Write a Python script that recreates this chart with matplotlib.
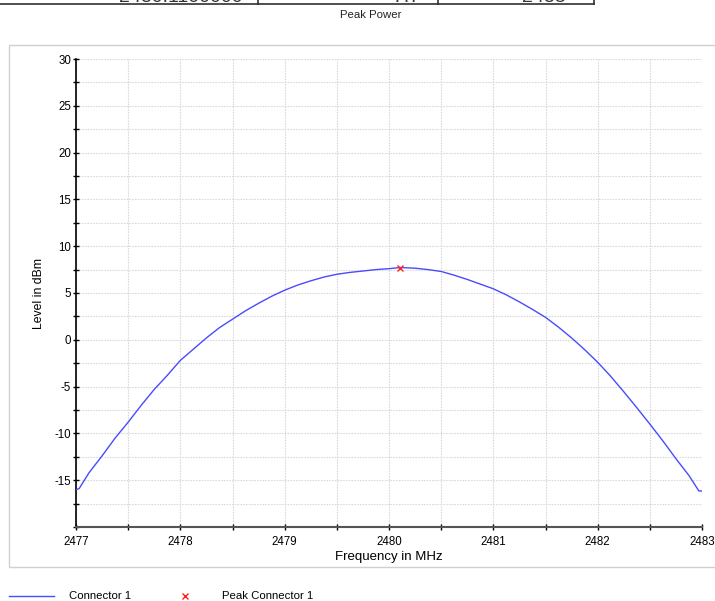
import matplotlib
matplotlib.use("Agg")
import matplotlib.pyplot as plt
from matplotlib.ticker import MultipleLocator
from matplotlib.lines import Line2D
from matplotlib.patches import Rectangle

plt.rcParams['font.family'] = ['Liberation Sans', 'DejaVu Sans']
plt.rcParams['axes.unicode_minus'] = False

# ---- data ----
freq_mhz = [2477.0, 2477.03, 2477.125, 2477.25, 2477.375, 2477.5, 2477.625, 2477.75,
            2477.875, 2478.0, 2478.125, 2478.25, 2478.375, 2478.5, 2478.625, 2478.75,
            2478.875, 2479.0, 2479.125, 2479.25, 2479.375, 2479.5, 2479.625, 2479.75,
            2479.875, 2480.0, 2480.11, 2480.25, 2480.375, 2480.5, 2480.625, 2480.75,
            2480.875, 2481.0, 2481.125, 2481.25, 2481.375, 2481.5, 2481.625, 2481.75,
            2481.875, 2482.0, 2482.125, 2482.25, 2482.375, 2482.5, 2482.625, 2482.75,
            2482.875, 2482.97, 2483.0]
level_dbm = [-16.0, -15.9, -14.2, -12.4, -10.5, -8.8, -7.0, -5.3,
             -3.8, -2.2, -1.0, 0.2, 1.3, 2.2, 3.1, 3.9,
             4.65, 5.3, 5.85, 6.3, 6.7, 7.0, 7.2, 7.35,
             7.5, 7.6, 7.72, 7.65, 7.5, 7.3, 6.9, 6.45,
             5.95, 5.45, 4.8, 4.05, 3.25, 2.4, 1.35, 0.2,
             -1.05, -2.4, -3.9, -5.55, -7.25, -9.0, -10.8, -12.7,
             -14.5, -16.15, -16.15]
peak_freq = [2480.11]
peak_level = [7.72]
x_ticks = [2477, 2478, 2479, 2480, 2481, 2482, 2483]
y_ticks = [-15, -10, -5, 0, 5, 10, 15, 20, 25, 30]
series_name = "Connector 1"
peak_name = "Peak Connector 1"
table_texts = ["2480.1100000", "7.7", "2483"]

W, H = 715, 601
fig = plt.figure(figsize=(W / 100, H / 100), dpi=100)

def fx(px):
    return px / W

def fy(py):
    return 1 - py / H

# outer frame
fig.patches.append(Rectangle((fx(9), fy(567)), fx(720) - fx(9), fy(45) - fy(567),
                             transform=fig.transFigure, fill=False,
                             edgecolor='#d0d0d0', linewidth=1.0))

# top table, cut off at the upper edge
fig.add_artist(Line2D([0, fx(594)], [fy(4), fy(4)], color='#303030', lw=1.2,
                      transform=fig.transFigure))
for px in [258, 438, 594]:
    fig.add_artist(Line2D([fx(px), fx(px)], [fy(4), 1.0], color='#303030', lw=1.2,
                          transform=fig.transFigure))
for txt, px in zip(table_texts, [243, 420, 566]):
    fig.text(fx(px), fy(2), txt, ha='right', va='baseline', fontsize=14, color='#333333')

fig.text(fx(371), fy(15), "Peak Power", ha='center', va='center', fontsize=8.2, color='#222222')

ax = fig.add_axes([fx(76), fy(527), fx(702) - fx(76), fy(59) - fy(527)])
ax.plot(freq_mhz, level_dbm, color='#4a4aff', lw=1.0, zorder=3)
ax.plot(peak_freq, peak_level, linestyle='none', marker='x', color='#ff2020',
        markersize=4, markeredgewidth=1.0, zorder=4)

ax.set_xlim(2477, 2483)
ax.set_ylim(-20, 30)
ax.set_xticks(x_ticks)
ax.set_yticks(y_ticks)
ax.xaxis.set_minor_locator(MultipleLocator(0.5))
ax.yaxis.set_minor_locator(MultipleLocator(2.5))
ax.grid(True, which='both', color='#dadada', linestyle=(0, (1.5, 1.0)), linewidth=0.8)
ax.set_axisbelow(True)

for s in ['top', 'right']:
    ax.spines[s].set_visible(False)
ax.spines['left'].set_color('#000000')
ax.spines['left'].set_linewidth(1.2)
ax.spines['bottom'].set_color('#555555')
ax.spines['bottom'].set_linewidth(1.5)

ax.tick_params(axis='both', which='both', direction='inout', length=5, width=1,
               colors='#000000', labelsize=8.3)
ax.tick_params(axis='x', pad=4)
ax.tick_params(axis='y', pad=1)

ax.set_xlabel("Frequency in MHz", fontsize=9.5, labelpad=2)
ax.set_ylabel("Level in dBm", fontsize=8.8, labelpad=7)

# legend
fig.add_artist(Line2D([fx(9), fx(54)], [fy(596), fy(596)], color='#4a4aff', lw=1.0,
                      transform=fig.transFigure))
fig.text(fx(69), fy(596), series_name, ha='left', va='center', fontsize=8.2)
fig.add_artist(Line2D([fx(185)], [fy(596)], linestyle='none', marker='x', color='#ff2020',
                      markersize=4, markeredgewidth=1.0, transform=fig.transFigure))
fig.text(fx(222), fy(596), peak_name, ha='left', va='center', fontsize=8.2)

fig.savefig("out.png", dpi=100, facecolor='white')
